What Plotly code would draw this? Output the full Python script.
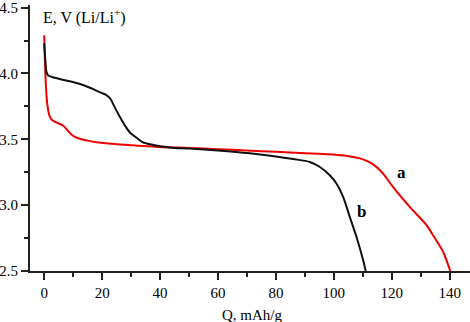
import plotly.graph_objects as go

# Curve a (red)
qa = [0, 0.5, 1, 1.8, 2.8, 4.5, 6.5, 8, 9.5, 11.5, 15, 18, 25, 30, 41, 50, 60, 70, 80, 90, 98.6, 105, 109, 111.5, 113.6, 117, 120.4, 126.2, 132, 134.2, 137.7, 140.2]
ea = [4.29, 3.95, 3.78, 3.68, 3.645, 3.625, 3.605, 3.57, 3.535, 3.51, 3.49, 3.477, 3.463, 3.455, 3.44, 3.435, 3.425, 3.415, 3.405, 3.395, 3.386, 3.372, 3.355, 3.335, 3.31, 3.24, 3.139, 2.987, 2.848, 2.773, 2.646, 2.5]

# Curve b (black)
qb = [0, 0.4, 0.8, 1.4, 5, 8, 12.4, 16, 19.3, 21.2, 22.8, 24.2, 26.2, 28, 29.7, 32, 34.1, 37, 40, 45, 50, 60, 71, 80, 86, 91.7, 95.2, 98.6, 100.9, 103.2, 105.5, 107.8, 110.1, 111.0]
eb = [4.23, 4.1, 4.01, 3.985, 3.96, 3.945, 3.92, 3.89, 3.856, 3.84, 3.81, 3.75, 3.667, 3.60, 3.55, 3.51, 3.477, 3.46, 3.447, 3.435, 3.43, 3.415, 3.394, 3.37, 3.35, 3.328, 3.29, 3.227, 3.164, 3.063, 2.911, 2.76, 2.583, 2.5]

x_ticks = [0, 20, 40, 60, 80, 100, 120, 140]
y_ticks = [2.5, 3.0, 3.5, 4.0, 4.5]
y_tick_text = ["2.5", "3.0", "3.5", "4.0", "4.5"]

serif = "Liberation Serif, DejaVu Serif, Times New Roman, serif"

fig = go.Figure()
fig.add_trace(go.Scatter(x=qa, y=ea, mode="lines", line=dict(color="#ee0000", width=2, shape="spline", smoothing=0.7), showlegend=False))
fig.add_trace(go.Scatter(x=qb, y=eb, mode="lines", line=dict(color="#111111", width=2, shape="spline", smoothing=0.7), showlegend=False))

fig.add_annotation(x=123.3, y=3.25, text="<b>a</b>", showarrow=False, font=dict(family=serif, size=17, color="black"), xanchor="center", yanchor="middle")
fig.add_annotation(x=109.5, y=2.95, text="<b>b</b>", showarrow=False, font=dict(family=serif, size=17, color="black"), xanchor="center", yanchor="middle")
fig.add_annotation(x=0.025, xref="paper", y=4.43, yref="y", text="E, V (Li/Li<sup>+</sup>)", showarrow=False,
                   font=dict(family=serif, size=16, color="black"), xanchor="left", yanchor="middle")
fig.add_annotation(x=0.5, xref="paper", y=-0.165, yref="paper", text="Q, mAh/g", showarrow=False,
                   font=dict(family=serif, size=15, color="black"), xanchor="center", yanchor="middle", xshift=2)

fig.update_xaxes(range=[-4.9, 147], tickvals=x_ticks, ticks="outside", ticklen=7, tickwidth=1.5, tickcolor="#222",
                 showline=True, linecolor="#222", linewidth=2, showgrid=False, zeroline=False, ticklabeloverflow="allow",
                 minor=dict(ticks="outside", dtick=10, tick0=0, ticklen=4, tickwidth=1.5, tickcolor="#222"),
                 tickfont=dict(family=serif, size=15, color="black"))
fig.update_yaxes(range=[2.5, 4.52], tickvals=y_ticks, ticktext=y_tick_text, ticks="outside", ticklen=7, tickwidth=1.5, tickcolor="#222",
                 showline=True, linecolor="#222", linewidth=2, showgrid=False, zeroline=False, ticklabeloverflow="allow",
                 minor=dict(ticks="outside", dtick=0.25, tick0=2.5, ticklen=4, tickwidth=1.5, tickcolor="#222"),
                 tickfont=dict(family=serif, size=15, color="black"))

fig.update_layout(width=470, height=322, margin=dict(l=30, r=0, t=5, b=51),
                  plot_bgcolor="white", paper_bgcolor="white", font=dict(family=serif))
fig.write_html("out.html", config={"displayModeBar": False},
               post_script="document.body.style.margin='0';document.body.style.padding='0';")
